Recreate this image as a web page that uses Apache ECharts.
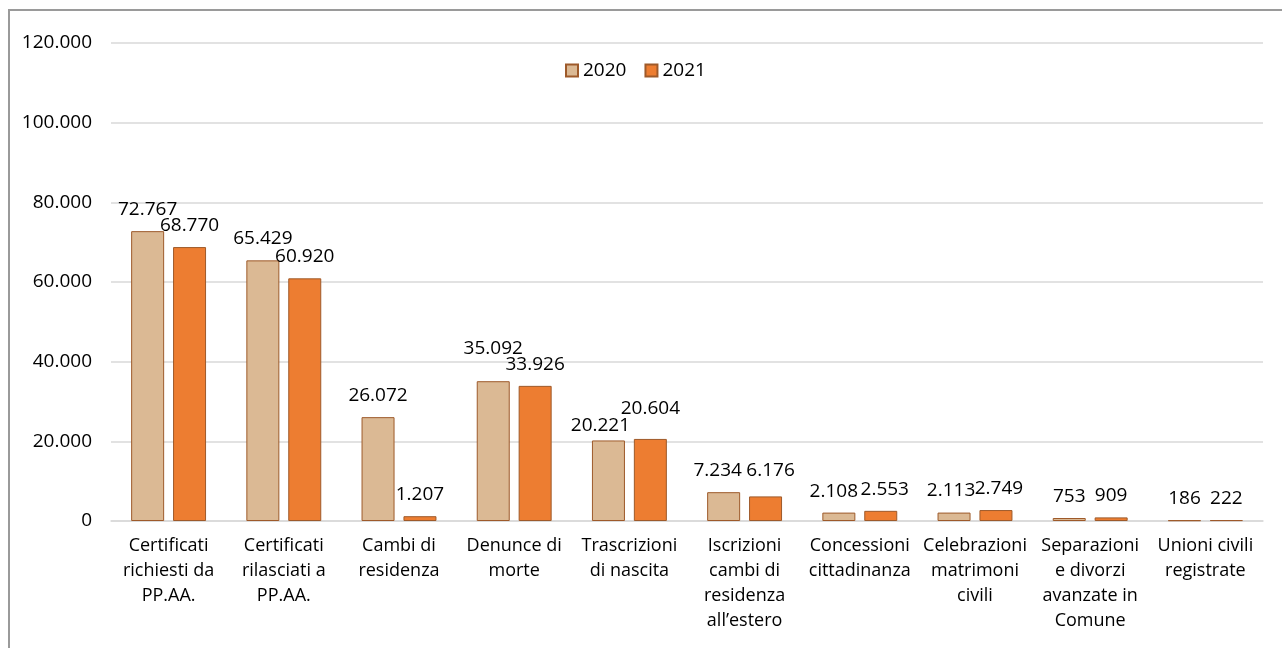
<!DOCTYPE html>
<html>
<head>
<meta charset="utf-8">
<script src="https://cdn.jsdelivr.net/npm/echarts@6/dist/echarts.min.js"></script>
<style>
  html, body { margin: 0; padding: 0; background: #fff; }
  #frame {
    position: absolute; left: 8px; top: 9px;
    width: 1400px; height: 800px;
    border: 2px solid #9a9a9a; box-sizing: border-box;
  }
  #chart { position: absolute; left: 0; top: 0; width: 1282px; height: 648px; }
</style>
</head>
<body>
<div id="frame"></div>
<div id="chart"></div>
<script>
const categories = [
  'Certificati\nrichiesti da\nPP.AA.',
  'Certificati\nrilasciati a\nPP.AA.',
  'Cambi di\nresidenza',
  'Denunce di\nmorte',
  'Trascrizioni\ndi nascita',
  'Iscrizioni\ncambi di\nresidenza\nall\u2019estero',
  'Concessioni\ncittadinanza',
  'Celebrazioni\nmatrimoni\ncivili',
  'Separazioni\ne divorzi\navanzate in\nComune',
  'Unioni civili\nregistrate'
];
const values2020 = [72767, 65429, 26072, 35092, 20221, 7234, 2108, 2113, 753, 186];
const values2021 = [68770, 60920, 1207, 33926, 20604, 6176, 2553, 2749, 909, 222];
const seriesNames = ['2020', '2021'];

// manual nudges for labels that were moved to avoid overlap in the original
const labelNudge2020 = { 3: [0, -11], 4: [-8, 7], 5: [-6, 0], 6: [-5, 0], 7: [-3, 0] };
const labelNudge2021 = { 4: [0, -9], 5: [5, -4], 6: [4, 0], 7: [3, 0] };

const FONT = '"Open Sans", "Liberation Sans", sans-serif';

function fmt(v) {
  return String(v).replace(/\B(?=(\d{3})+(?!\d))/g, '.');
}

function buildData(values, nudges) {
  return values.map((v, i) => {
    if (nudges[i]) {
      return { value: v, label: { offset: nudges[i] } };
    }
    return v;
  });
}

const chart = echarts.init(document.getElementById('chart'), null, { renderer: 'canvas' });

const labelStyle = {
  show: true,
  position: 'top',
  distance: 12,
  color: '#000',
  fontFamily: FONT,
  fontSize: 19,
  formatter: (p) => fmt(p.value)
};

chart.setOption({
  animation: false,
  textStyle: { fontFamily: FONT },
  legend: {
    data: seriesNames,
    left: 560,
    top: 56,
    itemWidth: 12,
    itemHeight: 12,
    itemGap: 18,
    itemTextGap: 6,
    icon: 'rect',
    textStyle: { fontSize: 19, color: '#000', fontFamily: FONT }
  },
  grid: { left: 111, right: 19, top: 43, bottom: 127 },
  xAxis: {
    type: 'category',
    data: categories,
    axisTick: { show: false },
    axisLine: { lineStyle: { color: '#d9d9d9', width: 1.5 } },
    axisLabel: {
      interval: 0,
      margin: 12,
      color: '#000',
      fontFamily: FONT,
      fontSize: 18,
      lineHeight: 25
    }
  },
  yAxis: {
    type: 'value',
    min: 0,
    max: 120000,
    interval: 20000,
    axisLine: { show: false },
    axisTick: { show: false },
    splitLine: { lineStyle: { color: '#d9d9d9', width: 1.5 } },
    axisLabel: {
      margin: 19,
      color: '#000',
      fontFamily: FONT,
      fontSize: 19,
      formatter: (v) => fmt(v)
    }
  },
  series: [
    {
      name: seriesNames[0],
      type: 'bar',
      barWidth: 33,
      barGap: '27%',
      itemStyle: { color: '#dbb994', borderColor: '#9e5a2a', borderWidth: 1 },
      label: labelStyle,
      data: buildData(values2020, labelNudge2020)
    },
    {
      name: seriesNames[1],
      type: 'bar',
      barWidth: 33,
      barGap: '27%',
      itemStyle: { color: '#ed7d31', borderColor: '#9e5a2a', borderWidth: 1 },
      label: labelStyle,
      data: buildData(values2021, labelNudge2021)
    }
  ]
});
</script>
</body>
</html>
